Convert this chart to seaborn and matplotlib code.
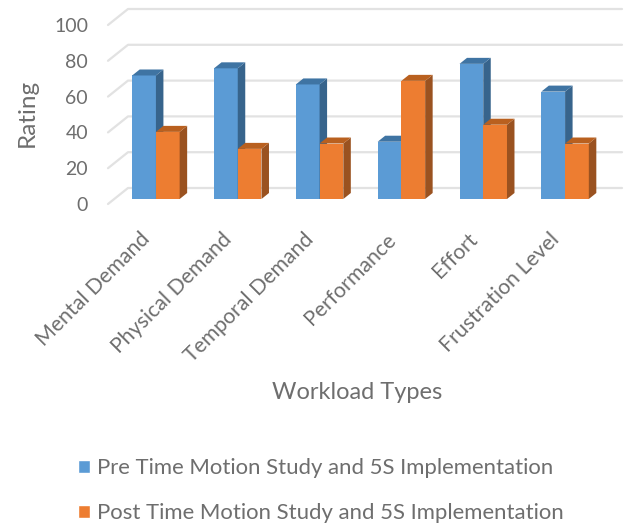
import matplotlib
matplotlib.use("Agg")

import matplotlib.pyplot as plt
import pandas as pd
import seaborn as sns

from matplotlib.patches import Patch, Polygon
from matplotlib.transforms import ScaledTranslation


# ============================================
# DATA
# ============================================

workload_types = [
    "Mental Demand",
    "Physical Demand",
    "Temporal Demand",
    "Performance",
    "Effort",
    "Frustration Level"
]

pre_values = [69, 73, 64, 32, 75.5, 60]
post_values = [37.5, 28, 31, 66, 41.5, 31]

pre_label = "Pre Time Motion Study and 5S Implementation"
post_label = "Post Time Motion Study and 5S Implementation"

rating_ticks = [0, 20, 40, 60, 80, 100]


# ============================================
# STYLE
# ============================================

TEXT = "#6e6e6e"
GRID = "#e2e2e2"

FRONT = ["#5b9bd5", "#ed7d31"]
SIDE = ["#37648c", "#9a5220"]
TOP = ["#3f74a3", "#b9601f"]

sns.set_style("white")
plt.rcParams["font.family"] = ["Lato", "DejaVu Sans"]

df = pd.DataFrame({
    "Workload": workload_types,
    pre_label: pre_values,
    post_label: post_values
}).melt(id_vars="Workload", var_name="Series", value_name="Rating")


# ============================================
# BARS
# ============================================

W, H = 632, 528

fig = plt.figure(figsize=(W / 100, H / 100), dpi=100)
ax = fig.add_axes([115 / W, 1 - 199 / H, 491 / W, 179 / H])

sns.barplot(
    data=df,
    x="Workload",
    y="Rating",
    hue="Series",
    palette=FRONT,
    saturation=1,
    width=0.58,
    gap=0,
    legend=False,
    ax=ax
)

ax.set_xlim(-0.5, 5.5)
ax.set_ylim(0, 100)

# pixel sizes in data units
px_x = 6 / 491
px_y = 100 / 179

depth_x = 7.5 * px_x
depth_y = 6 * px_y

for s, bars in enumerate(ax.containers):
    for bar in bars:
        x0, x1 = bar.get_x(), bar.get_x() + bar.get_width()
        h = bar.get_height()

        bar.set_zorder(3 + s)
        bar.set_linewidth(0)
        bar.set_edgecolor("none")
        bar.set_clip_on(False)

        side = Polygon(
            [(x1, 0), (x1 + depth_x, depth_y), (x1 + depth_x, h + depth_y), (x1, h)],
            facecolor=SIDE[s], edgecolor="none", zorder=3 + s, clip_on=False
        )
        top = Polygon(
            [(x0, h), (x0 + depth_x, h + depth_y), (x1 + depth_x, h + depth_y), (x1, h)],
            facecolor=TOP[s], edgecolor="none", zorder=3 + s, clip_on=False
        )
        ax.add_patch(side)
        ax.add_patch(top)


# ============================================
# GRID (SLANTED FLOOR + BACK WALL)
# ============================================

for v in rating_ticks:
    ax.plot(
        [-0.5 - 7 * px_x, -0.5 + 13 * px_x, 5.5 + 16 * px_x],
        [v - 5 * px_y, v + 11 * px_y, v + 11 * px_y],
        color=GRID,
        linewidth=1.6,
        clip_on=False,
        zorder=1
    )


# ============================================
# AXES TEXT
# ============================================

sns.despine(ax=ax, left=True, bottom=True)

ax.set_yticks(rating_ticks)
ax.tick_params(axis="y", length=0, pad=0, labelsize=14, labelcolor=TEXT)
ax.tick_params(axis="x", length=0, pad=16, labelsize=15.3, labelcolor=TEXT)

for label in ax.get_yticklabels():
    label.set_transform(
        label.get_transform() + ScaledTranslation(-27 / 100, -5 / 100, fig.dpi_scale_trans)
    )

plt.setp(
    ax.get_xticklabels(),
    rotation=45,
    ha="right",
    rotation_mode="anchor"
)

for label in ax.get_xticklabels():
    label.set_transform(
        label.get_transform() + ScaledTranslation(-16 / 100, -8 / 100, fig.dpi_scale_trans)
    )

ax.set_ylabel("Rating", fontsize=17.5, color=TEXT, va="center")
ax.yaxis.set_label_coords((27 - 115) / 491, (199 - 113) / 179)

ax.set_xlabel("Workload Types", fontsize=17, color=TEXT)
ax.xaxis.set_label_coords((357 - 115) / 491, (199 - 393) / 179)
ax.xaxis.label.set_verticalalignment("center")


# ============================================
# LEGEND
# ============================================

handles = [
    Patch(facecolor=FRONT[0], label=pre_label),
    Patch(facecolor=FRONT[1], label=post_label)
]

fig.legend(
    handles=handles,
    loc="upper left",
    bbox_to_anchor=(67 / W, 1 - 447 / H),
    frameon=False,
    fontsize=15.9,
    labelcolor=TEXT,
    handlelength=0.55,
    handleheight=0.55,
    handletextpad=0.32,
    labelspacing=1.14,
    borderpad=0
)

plt.savefig("out.png", dpi=100)
